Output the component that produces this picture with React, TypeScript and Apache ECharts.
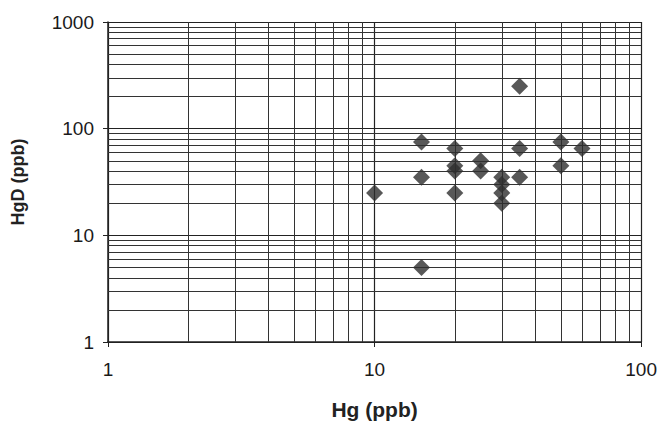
import React, { useEffect, useRef } from "react";
import * as echarts from "echarts";

const hgValues = [10, 15, 15, 15, 20, 20, 20, 20, 25, 25, 30, 30, 30, 30, 35, 35, 35, 50, 50, 60];
const hgdValues = [25, 75, 35, 5, 65, 45, 40, 25, 50, 40, 35, 30, 25, 20, 250, 65, 35, 75, 45, 65];
const xMinorLines = [2, 3, 4, 5, 6, 7, 8, 9, 20, 30, 40, 50, 60, 70, 80, 90];
const yMinorLines = [2, 3, 4, 5, 6, 7, 8, 9, 20, 30, 40, 50, 60, 70, 80, 90, 200, 300, 400, 500, 600, 700, 800, 900];

export default function App() {
  const ref = useRef<HTMLDivElement>(null);
  useEffect(() => {
    if (!ref.current) return;
    const chart = echarts.init(ref.current, null, { renderer: "svg" });
    const font = "Liberation Sans";
    const points = hgValues.map((x, i) => [x, hgdValues[i]]);
    chart.setOption({
      animation: false,
      backgroundColor: "#ffffff",
      grid: { left: 108, top: 22, right: 14, bottom: 82 },
      xAxis: {
        type: "log",
        logBase: 10,
        min: 1,
        max: 100,
        name: "Hg (ppb)",
        nameLocation: "middle",
        nameGap: 57,
        nameTextStyle: { fontFamily: font, fontSize: 21, fontWeight: "bold", color: "#222" },
        axisLine: { show: true, lineStyle: { color: "#222", width: 1.5 } },
        axisTick: { show: true, length: 5, lineStyle: { color: "#222" } },
        axisLabel: {
          margin: 18,
          fontFamily: font,
          fontSize: 19,
          color: "#1a1a1a",
          formatter: (v: number) => String(v),
        },
        splitLine: { show: true, lineStyle: { color: "#222", width: 1.2 } },
      },
      yAxis: {
        type: "log",
        logBase: 10,
        min: 1,
        max: 1000,
        name: "HgD (ppb)",
        nameLocation: "middle",
        nameGap: 81,
        nameTextStyle: { fontFamily: font, fontSize: 18, fontWeight: "bold", color: "#222" },
        axisLine: { show: true, lineStyle: { color: "#222", width: 1.5 } },
        axisTick: { show: true, length: 5, lineStyle: { color: "#222" } },
        axisLabel: {
          margin: 14,
          fontFamily: font,
          fontSize: 19,
          color: "#1a1a1a",
          formatter: (v: number) => String(v),
        },
        splitLine: { show: true, lineStyle: { color: "#222", width: 1.2 } },
      },
      series: [
        {
          type: "scatter",
          data: points,
          symbol: "diamond",
          symbolSize: [17, 17],
          itemStyle: { color: "#2e2e2e" },
          z: 5,
          markLine: {
            silent: true,
            symbol: ["none", "none"],
            label: { show: false },
            lineStyle: { color: "#333", width: 1, type: "solid" },
            z: 1,
            data: [
              ...xMinorLines.map((v) => ({ xAxis: v })),
              ...yMinorLines.map((v) => ({ yAxis: v })),
            ],
          },
        },
      ],
    });
    return () => chart.dispose();
  }, []);
  return (
    <div
      ref={ref}
      style={{ position: "fixed", left: 0, top: 0, width: 660, height: 425, overflow: "hidden" }}
    />
  );
}
